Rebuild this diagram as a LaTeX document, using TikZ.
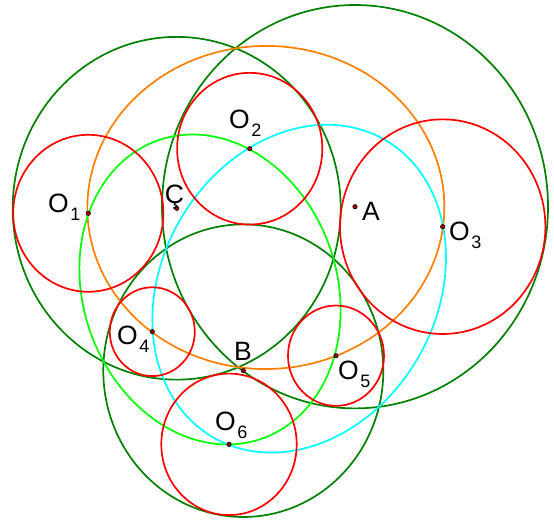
\documentclass[tikz,border=0pt]{standalone}
\usepackage{fontspec}
\newfontfamily\lblfont{Liberation Sans}
\usepackage{xcolor}
\definecolor{given}{HTML}{008000}
\definecolor{tangent}{HTML}{FF0000}
\definecolor{locusCA}{HTML}{FF8000}
\definecolor{locusCB}{HTML}{00FF00}
\definecolor{locusAB}{HTML}{00FFFF}
\newcommand{\lsub}[1]{\hspace{1.5pt}\raisebox{-8pt}{\fontsize{18}{18}\selectfont #1}}
% ellipse of centres: colour, centre x, centre y, a, b, angle
\newcommand{\locus}[6]{%
  \draw[locus, draw=#1] plot[domain=0:360, variable=\t]
    ({#2+#4*cos(\t)*cos(#6)-#5*sin(\t)*sin(#6)}, {#3+#4*cos(\t)*sin(#6)+#5*sin(\t)*cos(#6)}) -- cycle;}

\begin{document}
\begin{tikzpicture}[x=1pt, y=-1.045pt,
  given/.style={draw=given, line width=1.7pt},
  tangent/.style={draw=tangent, line width=1.7pt},
  locus/.style={line width=1.7pt, smooth, samples=181},
  dot/.style={fill=red!65!black, draw=black, line width=0.6pt},
  lbl/.style={anchor=base west, inner sep=0pt, font=\lblfont\fontsize{26.5}{30}\selectfont},
]
  \useasboundingbox (0,0) rectangle (554,497.6);

  % centres of the three given circles
  \coordinate (C) at (176.7,199.3);
  \coordinate (A) at (355.0,197.8);
  \coordinate (B) at (243.3,354.7);
  % centres of the tangent circles
  \coordinate (O1) at (88.3,204.1);
  \coordinate (O2) at (249.7,142.3);
  \coordinate (O3) at (442.7,216.9);
  \coordinate (O4) at (152.3,317.4);
  \coordinate (O5) at (336.0,340.4);
  \coordinate (O6) at (229.0,425.2);

  % given circles
  \draw[given] (C) circle (164);
  \draw[given] (A) circle (193);
  \draw[given] (B) circle (140);

  % loci of the centres
  \locus{locusCA}{265.85}{198.55}{178.5}{154.6}{-0.48}
  \locus{locusCB}{210.0}{277.0}{152.0}{126.3}{66.8}
  \locus{locusAB}{299.15}{276.25}{166.5}{135.8}{125.4}

  % tangent circles
  \draw[tangent] (O1) circle (75.1);
  \draw[tangent] (O2) circle (72.6);
  \draw[tangent] (O3) circle (102.7);
  \draw[tangent] (O4) circle (42.5);
  \draw[tangent] (O5) circle (48);
  \draw[tangent] (O6) circle (67.7);

  % points
  \foreach \p in {C,A,B,O1,O2,O3,O4,O5,O6}
    \draw[dot] (\p) circle (2.2pt);

  % labels
  \node[lbl] (lO1) at (48,202.9) {O\lsub{1}};
  \node[lbl] (lO2) at (229,122.8) {O\lsub{2}};
  \node[lbl] (lO3) at (449,229.7) {O\lsub{3}};
  \node[lbl] (lO4) at (117,330.1) {O\lsub{4}};
  \node[lbl] (lO5) at (338,363.6) {O\lsub{5}};
  \node[lbl] (lO6) at (215,411.5) {O\lsub{6}};
  \node[lbl] (lA) at (362,211.2) {A};
  \node[lbl] (lB) at (234,344.5) {B};
  \node[lbl] (lC) at (164.7,194.3) {Ç};
\end{tikzpicture}
\end{document}
